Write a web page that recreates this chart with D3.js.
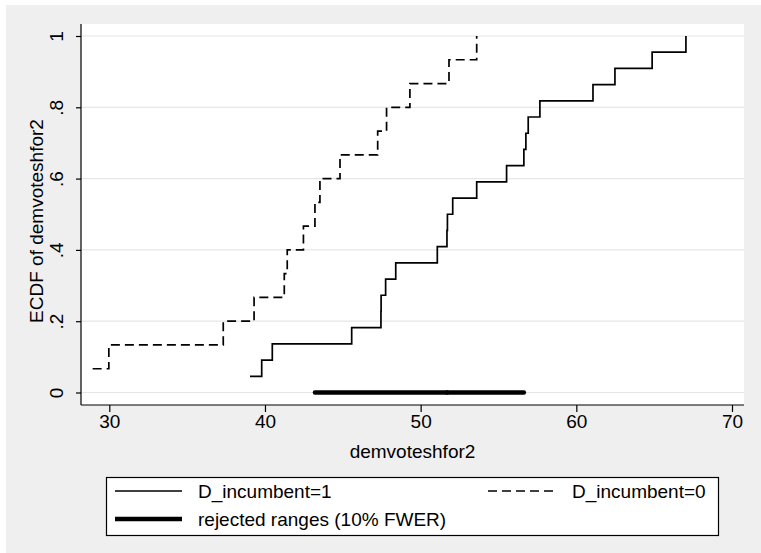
<!DOCTYPE html>
<html><head><meta charset="utf-8">
<script src="https://cdn.jsdelivr.net/npm/d3@7/dist/d3.min.js"></script>
<style>
html,body{margin:0;padding:0;background:#fff;}
text{font-family:"Liberation Sans",Arial,Helvetica,sans-serif;fill:#000;}
</style></head>
<body>
<svg id="chart" width="761" height="553"></svg>
<script>
// ---- data ----
const incumbent1 = [39.04, 39.79, 40.47, 45.57, 47.45, 47.46, 47.75, 48.4, 51.07, 51.69, 51.72, 52.06, 53.6, 55.52, 56.63, 56.76, 56.91, 57.66, 61.07, 62.48, 64.87, 67.04];
const incumbent0 = [28.93, 29.97, 37.32, 39.3, 41.24, 41.43, 42.47, 43.21, 43.53, 44.82, 47.24, 47.81, 49.31, 51.82, 53.6];
const rejectedRanges = [[43.21, 51.7], [51.7, 56.63]];
const xTicks = [30, 40, 50, 60, 70];
const yTicks = [0, 0.2, 0.4, 0.6, 0.8, 1];
const yTickLabels = ["0", ".2", ".4", ".6", ".8", "1"];
const legendLabels = ["D_incumbent=1", "D_incumbent=0", "rejected ranges (10% FWER)"];
const xTitle = "demvoteshfor2";
const yTitle = "ECDF of demvoteshfor2";

const svg = d3.select("#chart");
const FS = 19;

// backgrounds
svg.append("rect").attr("x", 6).attr("y", 5).attr("width", 755).attr("height", 548).attr("fill", "#efefef");
const plot = {left: 81, right: 744, top: 24, bottom: 405};
svg.append("rect").attr("x", plot.left).attr("y", plot.top)
  .attr("width", plot.right - plot.left).attr("height", plot.bottom - plot.top).attr("fill", "#fff");

const x = d3.scaleLinear().domain([30, 70]).range([109.3, 732]);
const y = d3.scaleLinear().domain([0, 1]).range([392.5, 36]);

// gridlines
svg.append("g").selectAll("line").data(yTicks).join("line")
  .attr("x1", plot.left).attr("x2", plot.right)
  .attr("y1", d => y(d)).attr("y2", d => y(d))
  .attr("stroke", "#e6e6e6").attr("stroke-width", 1.2);

// axes
const yAxis = d3.axisLeft(y).tickValues(yTicks).tickSize(5).tickFormat((d, i) => yTickLabels[i]);
const gy = svg.append("g").attr("transform", `translate(${plot.left},0)`).call(yAxis);
gy.select(".domain").attr("d", `M0,${plot.top}V${plot.bottom}`).attr("stroke", "#000").attr("stroke-width", 1.2);
gy.selectAll(".tick line").attr("stroke", "#000").attr("stroke-width", 1.2);
gy.selectAll(".tick text")
  .attr("font-size", FS).attr("fill", "#000")
  .attr("text-anchor", "middle")
  .attr("x", null).attr("dy", null)
  .attr("transform", "translate(-18,0) rotate(-90)")
  .attr("y", 0);

const xAxis = d3.axisBottom(x).tickValues(xTicks).tickSize(7).tickFormat(d3.format("d"));
const gx = svg.append("g").attr("transform", `translate(0,${plot.bottom})`).call(xAxis);
gx.select(".domain").attr("d", `M${plot.left},0H${plot.right}`).attr("stroke", "#000").attr("stroke-width", 1.2);
gx.selectAll(".tick line").attr("stroke", "#000").attr("stroke-width", 1.2);
gx.selectAll(".tick text").attr("font-size", FS).attr("fill", "#000").attr("y", 10).attr("dy", "0.71em");

// titles
svg.append("text").attr("x", (plot.left + plot.right) / 2).attr("y", 458)
  .attr("text-anchor", "middle").attr("font-size", FS).text(xTitle);
svg.append("text").attr("transform", "translate(43,221) rotate(-90)")
  .attr("text-anchor", "middle").attr("font-size", FS).text(yTitle);

// ECDF lines
function ecdf(vals) {
  const s = vals.slice().sort((a, b) => a - b);
  return s.map((v, i) => [v, (i + 1) / s.length]);
}
const line = d3.line().x(d => x(d[0])).y(d => y(d[1])).curve(d3.curveStepAfter);
svg.append("path").datum(ecdf(incumbent1)).attr("d", line)
  .attr("fill", "none").attr("stroke", "#000").attr("stroke-width", 1.7);
svg.append("path").datum(ecdf(incumbent0)).attr("d", line)
  .attr("fill", "none").attr("stroke", "#000").attr("stroke-width", 1.7).attr("stroke-dasharray", "9,5");

// rejected ranges
svg.append("g").selectAll("line").data(rejectedRanges).join("line")
  .attr("x1", d => x(d[0])).attr("x2", d => x(d[1]))
  .attr("y1", y(0)).attr("y2", y(0))
  .attr("stroke", "#000").attr("stroke-width", 4.5).attr("stroke-linecap", "round");

// legend
const lg = svg.append("g");
lg.append("rect").attr("x", 106.5).attr("y", 477.5).attr("width", 612).attr("height", 58)
  .attr("fill", "#fff").attr("stroke", "#000").attr("stroke-width", 1.2);
const rows = [
  {x1: 115, x2: 182, tx: 198, y: 491, w: 1.7, dash: null, label: legendLabels[0]},
  {x1: 488, x2: 556, tx: 572, y: 491, w: 1.7, dash: "9,5", label: legendLabels[1]},
  {x1: 115, x2: 182, tx: 198, y: 519, w: 4.5, dash: null, label: legendLabels[2]}
];
rows.forEach(r => {
  const l = lg.append("line").attr("x1", r.x1).attr("x2", r.x2).attr("y1", r.y).attr("y2", r.y)
    .attr("stroke", "#000").attr("stroke-width", r.w);
  if (r.dash) l.attr("stroke-dasharray", r.dash);
  lg.append("text").attr("x", r.tx).attr("y", r.y).attr("dy", "0.35em").attr("font-size", FS).text(r.label);
});
</script>
</body></html>
